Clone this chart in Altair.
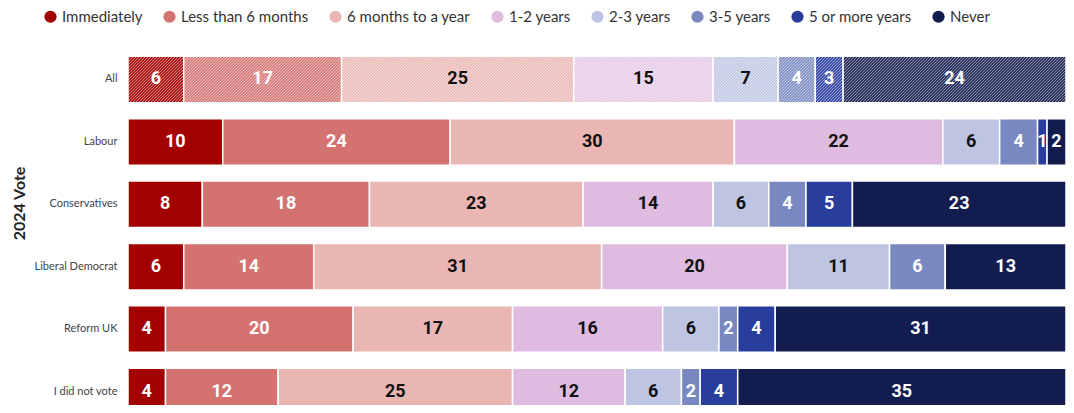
import altair as alt
import pandas as pd

groups = ["All", "Labour", "Conservatives", "Liberal Democrat", "Reform UK", "I did not vote"]
categories = ["Immediately", "Less than 6 months", "6 months to a year", "1-2 years",
              "2-3 years", "3-5 years", "5 or more years", "Never"]
colors = ["#a30000", "#d47270", "#eab6b3", "#dfbcdf", "#bdc5e2", "#7a88c2", "#293e9c", "#131c4e"]
light_cats = ["6 months to a year", "1-2 years", "2-3 years"]

immediately = [6, 10, 8, 6, 4, 4]
less_6m = [17, 24, 18, 14, 20, 12]
six_to_year = [25, 30, 23, 31, 17, 25]
one_two = [15, 22, 14, 20, 16, 12]
two_three = [7, 6, 6, 11, 6, 6]
three_five = [4, 4, 4, 6, 2, 2]
five_plus = [3, 1, 5, 0, 4, 4]
never = [24, 2, 23, 13, 31, 35]

series = [immediately, less_6m, six_to_year, one_two, two_three, three_five, five_plus, never]

rows = []
for gi, g in enumerate(groups):
    for ci, c in enumerate(categories):
        rows.append({"group": g, "category": c, "order": ci, "value": series[ci][gi]})
df = pd.DataFrame(rows)

# layout constants (styles)
PLOT_W = 938
PLOT_H = 371
P_INNER = 0.255
P_OUTER = 0.1
STEP = PLOT_H / (len(groups) - P_INNER + 2 * P_OUTER)
BAR_H = STEP * (1 - P_INNER)


def mix(hex_color, amt):
    r = int(hex_color[1:3], 16)
    g = int(hex_color[3:5], 16)
    b = int(hex_color[5:7], 16)
    r = round(r + (255 - r) * amt)
    g = round(g + (255 - g) * amt)
    b = round(b + (255 - b) * amt)
    return "#%02x%02x%02x" % (r, g, b)


def hatch_gradient(base_hex, w, h=BAR_H, period=3.0, duty=0.6):
    dark = mix(base_hex, 0.1)
    light = mix(base_hex, 0.5)
    k = 1.03 * w * (w + h) / (w * w + h * h)
    c_range = k * (w * w + h * h) / w
    dt = period / c_range
    stops = []
    t = 0.0
    while t < 1.0:
        t1 = min(t + duty * dt, 1.0)
        t2 = min(t + dt, 1.0)
        stops += [
            alt.GradientStop(offset=round(t, 5), color=dark),
            alt.GradientStop(offset=round(t1, 5), color=dark),
            alt.GradientStop(offset=round(t1, 5), color=light),
            alt.GradientStop(offset=round(t2, 5), color=light),
        ]
        t += dt
    return alt.LinearGradient(gradient="linear", stops=stops, x1=0, y1=0, x2=k, y2=k * h / w)


base = (
    alt.Chart(df)
    .transform_joinaggregate(total="sum(value)", groupby=["group"])
    .transform_window(cum="sum(value)", sort=[alt.SortField("order")], groupby=["group"], frame=[None, 0])
    .transform_calculate(
        start="(datum.cum - datum.value) / datum.total",
        end="datum.cum / datum.total",
        mid="(datum.cum - datum.value / 2) / datum.total",
    )
)

x = alt.X("start:Q", scale=alt.Scale(domain=[0, 1], nice=False, zero=True), axis=None)
x2 = alt.X2("end:Q")
y = alt.Y(
    "group:N",
    sort=groups,
    scale=alt.Scale(paddingInner=P_INNER, paddingOuter=P_OUTER),
    axis=alt.Axis(
        title="2024 Vote",
        titleFont="Lato",
        titleFontSize=16,
        titleFontWeight="bold",
        titleColor="#222222",
        titleAngle=270,
        titleX=-109,
        titleY=153,
        titleAlign="center",
        titleBaseline="middle",
        labelFont="Lato",
        labelFontSize=11,
        labelColor="#444444",
        labelPadding=11,
        ticks=False,
        domain=False,
    ),
)

bars = (
    base.transform_filter(alt.datum.group != "All")
    .mark_bar(stroke="white", strokeWidth=1.5)
    .encode(
        x=x,
        x2=x2,
        y=y,
        color=alt.Color(
            "category:N",
            scale=alt.Scale(domain=categories, range=colors),
            legend=alt.Legend(
                title=None,
                orient="none",
                legendX=-85,
                legendY=-41,
                direction="horizontal",
                columns=8,
                columnPadding=19,
                labelOffset=4,
                labelFont="Lato",
                labelFontSize=15,
                labelColor="#333333",
                symbolType="circle",
                symbolSize=150,
                symbolStrokeWidth=0,
                symbolOpacity=1,
                padding=0,
            ),
        ),
    )
)

all_total = sum(s[0] for s in series)
hatch_layers = []
for ci, c in enumerate(categories):
    v = series[ci][0]
    if v <= 0:
        continue
    w = v / all_total * PLOT_W
    grad = hatch_gradient(colors[ci], w)
    layer = (
        base.transform_filter((alt.datum.group == "All") & (alt.datum.category == c))
        .mark_bar(fill=grad, stroke="white", strokeWidth=1.5)
        .encode(x=x, x2=x2, y=y)
    )
    hatch_layers.append(layer)

text = (
    base.transform_filter(alt.datum.value > 0)
    .mark_text(font="Roboto", fontSize=18, fontWeight="bold", align="center", baseline="middle")
    .encode(
        x=alt.X("mid:Q"),
        y=y,
        text=alt.Text("value:Q"),
        color=alt.condition(
            alt.FieldOneOfPredicate(field="category", oneOf=light_cats),
            alt.value("#111111"),
            alt.value("#ffffff"),
        ),
    )
)

chart = (
    alt.layer(bars, *hatch_layers, text)
    .properties(
        width=PLOT_W,
        height=PLOT_H,
        autosize=alt.AutoSizeParams(type="none"),
        padding={"left": 120, "top": 42, "right": 1058 - 120 - PLOT_W, "bottom": 397 - 42 - PLOT_H},
        background="white",
    )
    .configure_view(stroke=None)
)

chart.save("out.html", embed_options={"renderer": "svg", "actions": False})
